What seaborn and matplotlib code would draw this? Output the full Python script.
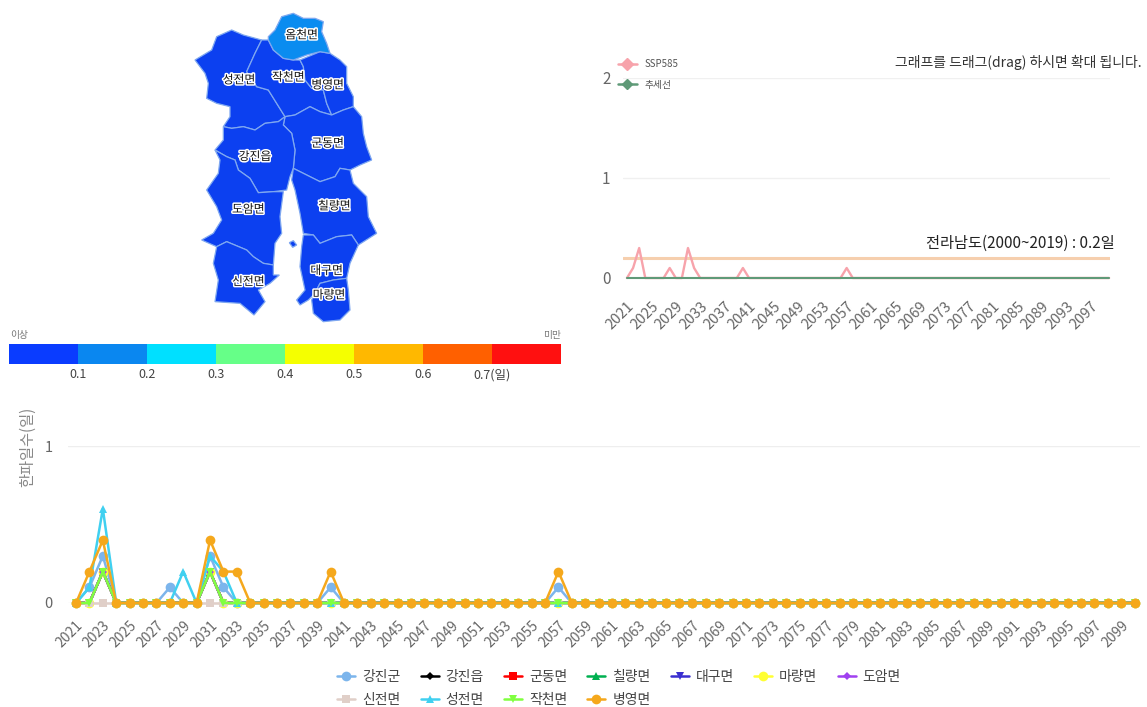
import numpy as np
import pandas as pd
import seaborn as sns
import matplotlib.pyplot as plt
import matplotlib.patheffects as pe
from matplotlib.colors import ListedColormap
from matplotlib.lines import Line2D

W, H = 1147, 707

omcheon = [(265,110),(285,90),(305,50),(340,40),(370,55),(405,55),(430,65),(425,95),(440,130),(450,160),(420,155),(380,165),(340,180),(310,175),(280,150),(265,120)]
seongjeon = [(45,180),(95,150),(110,110),(155,90),(190,105),(245,120),(225,160),(200,215),(230,260),(265,270),(290,310),(315,350),(295,365),(255,370),(225,390),(190,380),(155,385),(130,380),(150,350),(150,320),(110,310),(80,295),(85,250),(75,220)]
jakcheon = [(265,120),(280,150),(310,175),(340,180),(360,180),(370,200),(375,240),(395,265),(430,270),(440,310),(455,345),(420,335),(390,320),(345,345),(315,350),(290,310),(265,270),(230,260),(200,215),(225,160),(245,120)]
byeongyeong = [(360,180),(420,155),(450,160),(480,180),(500,200),(500,250),(520,290),(520,320),(490,330),(455,345),(440,310),(430,270),(395,265),(375,240),(370,200)]
gundong = [(315,350),(345,345),(390,320),(420,335),(455,345),(490,330),(520,320),(545,350),(550,400),(560,440),(575,480),(540,495),(510,510),(480,505),(465,530),(420,545),(390,530),(340,505),(345,450),(335,400),(310,375)]
gangjin_eup = [(130,380),(155,385),(190,380),(225,390),(255,370),(295,365),(315,350),(310,375),(335,400),(345,450),(340,505),(330,530),(320,570),(280,575),(235,578),(210,535),(175,510),(165,480),(140,470),(105,450),(130,420)]
doam = [(105,450),(140,470),(165,480),(175,510),(210,535),(235,578),(280,575),(310,575),(300,650),(305,700),(285,730),(280,795),(250,790),(220,770),(200,750),(140,725),(110,740),(65,720),(100,700),(125,660),(110,620),(80,570),(115,520),(120,480)]
sinjeon = [(110,740),(140,725),(200,750),(220,770),(250,790),(280,795),(280,825),(298,825),(270,850),(235,870),(255,905),(222,945),(180,910),(105,905),(115,840),(100,790)]
chilryang = [(340,505),(390,530),(420,545),(465,530),(480,505),(510,510),(520,550),(560,590),(565,650),(590,700),(535,735),(515,705),(470,710),(420,730),(400,705),(370,700),(360,640),(345,570),(335,540)]
daegu = [(370,705),(400,705),(420,730),(470,710),(515,705),(535,735),(510,790),(500,835),(460,840),(420,850),(405,880),(385,900),(360,915),(350,900),(375,870),(360,800),(365,740)]
maryang = [(420,850),(460,840),(500,835),(505,870),(510,930),(480,960),(430,965),(400,940),(395,900),(405,880)]
island = [(328,728),(340,722),(350,735),(338,742)]

map_shapes = [seongjeon, jakcheon, byeongyeong, gundong, gangjin_eup, doam, sinjeon, chilryang, daegu, maryang, island]
map_labels = ['옴천면', '성전면', '작천면', '병영면', '군동면', '강진읍', '칠량면', '도암면', '신전면', '대구면', '마량면']
label_x = [365, 177, 325, 443, 443, 225, 463, 205, 205, 440, 447]
label_y = [105, 240, 232, 255, 430, 470, 618, 628, 845, 812, 885]

# colour scale
scale_colors = ['#0a3cff', '#0a87f0', '#00e0ff', '#66ff88', '#f5ff00', '#ffb800', '#ff6000', '#ff1010']
scale_ticks = ['0.1', '0.2', '0.3', '0.4', '0.5', '0.6', '0.7(일)']

# top right chart
years = list(range(2021, 2101))
ssp585 = {2022: 0.1, 2023: 0.3, 2028: 0.1, 2031: 0.3, 2032: 0.1, 2040: 0.1, 2057: 0.1}
trend = {}
jeonnam_avg = 0.2

# bottom chart, years not listed are 0
gangjin_gun_v = {2022: 0.1, 2023: 0.3, 2028: 0.1, 2031: 0.3, 2032: 0.1, 2040: 0.1, 2057: 0.1}
gangjin_eup_v = {2023: 0.2, 2031: 0.2}
gundong_v = {2023: 0.2, 2031: 0.2}
chilryang_v = {2023: 0.2, 2031: 0.2}
daegu_v = {2023: 0.2, 2031: 0.2}
maryang_v = {2023: 0.2, 2031: 0.2}
doam_v = {2023: 0.2, 2031: 0.2}
sinjeon_v = {}
seongjeon_v = {2022: 0.1, 2023: 0.6, 2029: 0.2, 2031: 0.3, 2032: 0.2}
jakcheon_v = {2023: 0.2, 2031: 0.2}
byeongyeong_v = {2022: 0.2, 2023: 0.4, 2031: 0.4, 2032: 0.2, 2033: 0.2, 2040: 0.2, 2057: 0.2}

names = ['강진군', '강진읍', '군동면', '칠량면', '대구면', '마량면', '도암면', '신전면', '성전면', '작천면', '병영면']
series = [gangjin_gun_v, gangjin_eup_v, gundong_v, chilryang_v, daegu_v, maryang_v, doam_v, sinjeon_v, seongjeon_v, jakcheon_v, byeongyeong_v]
colors = ['#7cb5ec', '#000000', '#ff0000', '#00b050', '#3a2fd0', '#ffff33', '#a040f0', '#e0cfc8', '#40d0f0', '#80ff40', '#f5a81c']
marks = ['o', 'D', 's', '^', 'v', 'o', 'D', 's', '^', 'v', 'o']
mark_sizes = {'o': 7, 'D': 4.5, 's': 5.5, '^': 6, 'v': 6}

sns.set_theme(style='white')
plt.rcParams['font.family'] = ['Noto Sans CJK KR', 'DejaVu Sans']


def px_axes(fig, left, top, right, bottom):
    return fig.add_axes([left / W, 1 - bottom / H, (right - left) / W, (bottom - top) / H])


def clean(ax):
    sns.despine(ax=ax, left=True, bottom=True)
    ax.tick_params(length=0, colors='#666666')


fig = plt.figure(figsize=(W / 100, H / 100), dpi=100)

# map
ax_map = px_axes(fig, 0, 0, W, H)
ax_map.set_xlim(0, W)
ax_map.set_ylim(H, 0)
ax_map.axis('off')
for shape in map_shapes + [omcheon]:
    pts = np.array(shape) / 3 + [180, 0]
    fill = '#0a8cf0' if shape is omcheon else '#0c40f0'
    ax_map.fill(pts[:, 0], pts[:, 1], facecolor=fill, edgecolor='#7fa8f0', lw=0.9)
for name, x, y in zip(map_labels, label_x, label_y):
    ax_map.text(x / 3 + 180, y / 3, name, ha='center', va='center', fontsize=8.5, color='#111111',
                path_effects=[pe.withStroke(linewidth=2.2, foreground='white')])

# colour scale
ax_bar = px_axes(fig, 9, 344, 561, 364)
sns.heatmap([list(range(8))], cmap=ListedColormap(scale_colors), cbar=False, ax=ax_bar, xticklabels=False, yticklabels=False)
ax_bar.set_xticks(range(1, 8))
ax_bar.set_xticklabels(scale_ticks, fontsize=9, color='#444444')
ax_bar.tick_params(length=0, pad=3)
fig.text(19 / W, 1 - 335 / H, '이상', fontsize=7, color='#777777', ha='center', va='center')
fig.text(552 / W, 1 - 335 / H, '미만', fontsize=7, color='#777777', ha='center', va='center')

# top right chart
top_df = pd.DataFrame({'year': years,
                       'SSP585': [ssp585.get(y, 0) for y in years],
                       '추세선': [trend.get(y, 0) for y in years]})
ax_top = px_axes(fig, 623, 78, 1110, 278)
ax_top.axhline(jeonnam_avg, color='#f6cfae', lw=2.2, zorder=1)
sns.lineplot(data=top_df, x='year', y='SSP585', color='#f7a3ab', lw=1.7, ax=ax_top, clip_on=False, zorder=3)
sns.lineplot(data=top_df, x='year', y='추세선', color='#5f9a78', lw=1.5, ax=ax_top, clip_on=False, zorder=4)
ax_top.set_xlim(2020.35, 2100.15)
ax_top.set_ylim(0, 2)
ax_top.set_yticks([0, 1, 2])
ax_top.set_xticks(years[::4])
ax_top.set_xticklabels(years[::4], rotation=45, ha='right', rotation_mode='anchor', fontsize=10.5)
ax_top.set_xlabel('')
ax_top.set_ylabel('')
ax_top.grid(axis='y', color='#f0f0f0', lw=1)
clean(ax_top)
ax_top.tick_params(axis='y', labelsize=11, pad=9)
ax_top.tick_params(axis='x', pad=15)
top_handles = [Line2D([], [], color='#f7a3ab', marker='D', ms=6, lw=1.8),
               Line2D([], [], color='#5f9a78', marker='D', ms=5, lw=1.8)]
ax_top.legend(top_handles, ['SSP585', '추세선'], loc='center left', bbox_to_anchor=(609 / W, 1 - 74.5 / H),
              bbox_transform=fig.transFigure, frameon=False, fontsize=7, labelcolor='#555555',
              handlelength=2, labelspacing=1.05)
fig.text(1142 / W, 1 - 62 / H, '그래프를 드래그(drag) 하시면 확대 됩니다.', fontsize=10, color='#333333', ha='right', va='center')
ax_top.text(1115, 243, '전라남도(2000~2019) : 0.2일', transform=ax_map.transData, fontsize=11, style='italic',
            color='#222222', ha='right', va='center')

# bottom chart
rows = []
for name, vals in zip(names, series):
    for y in years:
        rows.append((y, vals.get(y, 0), name))
bottom_df = pd.DataFrame(rows, columns=['year', 'days', 'town'])

ax_low = px_axes(fig, 68, 446, 1140, 603)
sns.lineplot(data=bottom_df, x='year', y='days', hue='town', style='town', hue_order=names, style_order=names,
             palette=dict(zip(names, colors)), markers=dict(zip(names, marks)), dashes=False,
             lw=1.8, markersize=6, markeredgewidth=0, ax=ax_low, clip_on=False, zorder=3)
for line, m in zip(ax_low.lines, marks):
    line.set_markersize(mark_sizes[m])
ax_low.set_xlim(2020.4, 2100.4)
ax_low.set_ylim(0, 1)
ax_low.set_yticks([0, 1])
ax_low.set_xticks(years[::2])
ax_low.set_xticklabels(years[::2], rotation=45, ha='right', rotation_mode='anchor', fontsize=10)
ax_low.set_xlabel('')
ax_low.set_ylabel('')
ax_low.grid(axis='y', color='#eeeeee', lw=1)
clean(ax_low)
ax_low.tick_params(axis='y', labelsize=10.5, pad=11)
ax_low.tick_params(axis='x', pad=11)
fig.text(28 / W, 1 - 447 / H, '한파일수(일)', rotation=90, fontsize=11, color='#888888', ha='center', va='center')

# legend: first four columns get two rows
handles, labels = ax_low.get_legend_handles_labels()
order = [0, 7, 1, 8, 2, 9, 3, 10, 4, 5, 6]
leg = ax_low.legend([handles[i] for i in order], [labels[i] for i in order], ncol=7, loc='center',
                    bbox_to_anchor=(619 / W, 1 - 688.5 / H), bbox_transform=fig.transFigure, frameon=False,
                    fontsize=10, labelcolor='#444444', handlelength=1.3, handletextpad=0.5, columnspacing=1.45,
                    labelspacing=0.6)
for h, i in zip(leg.legend_handles, order):
    h.set_linewidth(1.8)
    h.set_markersize(mark_sizes[marks[i]])

fig.savefig('out.png', dpi=100)
